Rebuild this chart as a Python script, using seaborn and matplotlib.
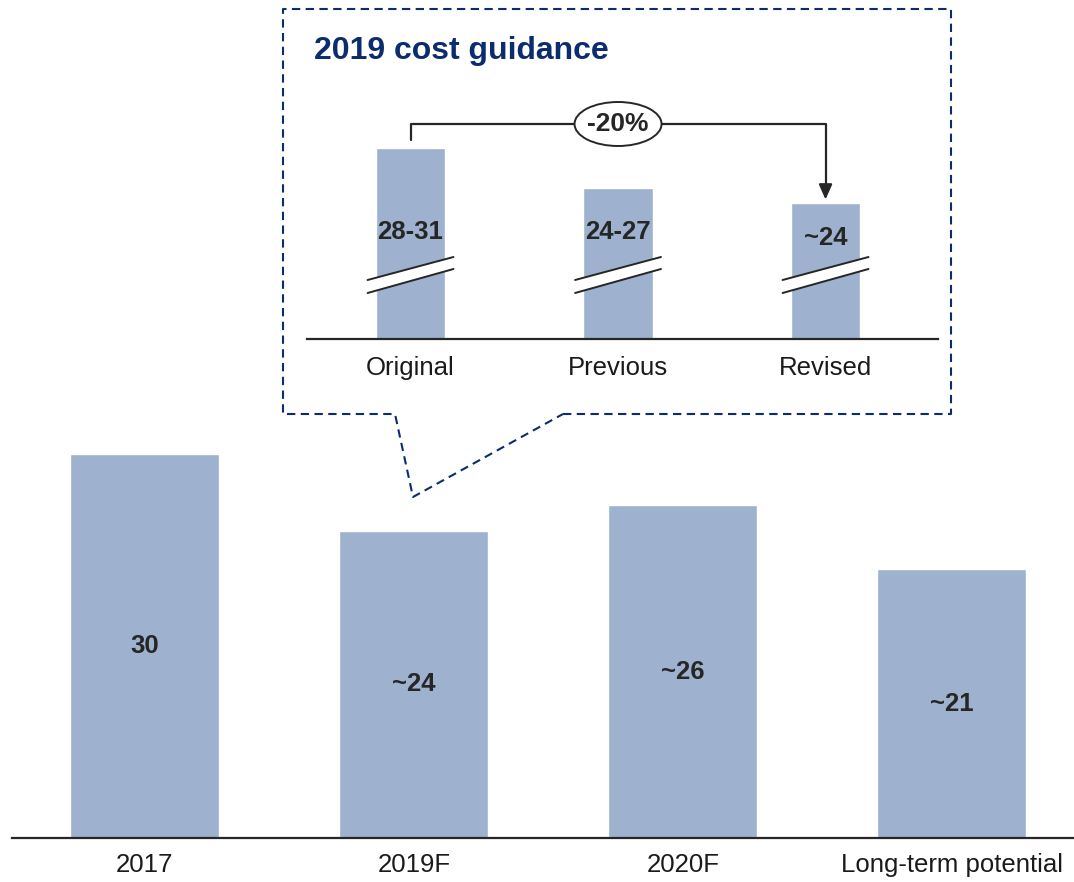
import matplotlib
matplotlib.use("Agg")
import matplotlib.pyplot as plt
import seaborn as sns
import pandas as pd
from matplotlib.patches import Ellipse, Polygon
from matplotlib.lines import Line2D

# ---------------- data ----------------
main_categories = ["2017", "2019F", "2020F", "Long-term potential"]
main_values = [30, 24, 26, 21]
main_labels = ["30", "~24", "~26", "~21"]

inset_categories = ["Original", "Previous", "Revised"]
inset_values = [29.5, 25.5, 24.0]
inset_labels = ["28-31", "24-27", "~24"]
change_label = "-20%"
inset_title = "2019 cost guidance"

# ---------------- style ----------------
sns.set_style("white")
plt.rcParams["font.family"] = ["Liberation Sans", "DejaVu Sans"]

BAR = "#9EB1CE"
DARK = "#262626"
NAVY = "#0B2D6E"

W, H = 1074, 882
fig = plt.figure(figsize=(W / 100, H / 100), dpi=100)

def fx(px):
    return px / W

def fy(py):
    return 1 - py / H

# ---------------- main chart ----------------
ax = fig.add_axes([fx(12), fy(838), fx(1074 - 12), (838) / H])
df = pd.DataFrame({"cat": main_categories, "val": main_values})
sns.barplot(data=df, x="cat", y="val", color=BAR, saturation=1, width=0.554, ax=ax)
ax.set_ylim(0, 838 / 12.8)
ax.set_xlim(-0.494, 3.454)
for s in ["top", "right", "left"]:
    ax.spines[s].set_visible(False)
ax.spines["bottom"].set_color(DARK)
ax.spines["bottom"].set_linewidth(1.6)
ax.set_yticks([])
ax.set_xlabel("")
ax.set_ylabel("")
ax.tick_params(axis="x", length=0, pad=11, labelsize=18.5, colors="#1a1a1a")
for i, (v, lab) in enumerate(zip(main_values, main_labels)):
    ax.text(i, v / 2, lab, ha="center", va="center", fontsize=18.5,
            fontweight="bold", color=DARK)

# ---------------- inset chart ----------------
base = 10.4
ax2 = fig.add_axes([fx(307), fy(339), fx(938 - 307), (339 - 100) / H])
df2 = pd.DataFrame({"cat": inset_categories, "val": inset_values})
sns.barplot(data=df2, x="cat", y="val", color=BAR, saturation=1, width=0.333, ax=ax2)
ax2.set_ylim(base, base + 23.9)
ax2.set_xlim(-0.499, 2.542)
for s in ["top", "right", "left"]:
    ax2.spines[s].set_visible(False)
ax2.spines["bottom"].set_color(DARK)
ax2.spines["bottom"].set_linewidth(1.6)
ax2.set_yticks([])
ax2.set_xlabel("")
ax2.set_ylabel("")
ax2.patch.set_alpha(0)
ax2.tick_params(axis="x", length=0, pad=12, labelsize=18.5, colors="#1a1a1a")

label_y = [21.1, 21.1, 20.5]
for i, (lab, ly) in enumerate(zip(inset_labels, label_y)):
    ax2.text(i, ly, lab, ha="center", va="center", fontsize=18.5,
             fontweight="bold", color=DARK)
    # axis-break marks
    xl, xr = i - 0.207, i + 0.207
    upper = [(xl, 16.3), (xr, 18.6)]
    lower = [(xl, 15.0), (xr, 17.4)]
    ax2.add_patch(Polygon(upper + lower[::-1], closed=True, facecolor="white",
                          edgecolor="none", zorder=4))
    for seg in (upper, lower):
        ax2.add_line(Line2D([seg[0][0], seg[1][0]], [seg[0][1], seg[1][1]],
                            color=DARK, lw=1.4, zorder=5))

# bracket with arrow
top = max(inset_values) + 2.4
start = inset_values[0] + 0.8
end = inset_values[-1] + 0.35
ax2.plot([0, 0, 2, 2], [start, top, top, end + 1.2], color=DARK, lw=1.6,
         zorder=3, clip_on=False)
ax2.annotate("", xy=(2, end), xytext=(2, end + 1.5),
             arrowprops=dict(arrowstyle="-|>,head_length=0.9,head_width=0.4",
                             color=DARK, lw=1.6, shrinkA=0, shrinkB=0),
             annotation_clip=False)
ell = Ellipse((1, top), width=87 / 207.5, height=4.4, facecolor="white",
              edgecolor=DARK, lw=1.4, zorder=6, clip_on=False)
ax2.add_patch(ell)
ax2.text(1, top, change_label, ha="center", va="center", fontsize=19,
         fontweight="bold", color=DARK, zorder=7)

# ---------------- callout box ----------------
pts = [(563, 414), (951, 414), (951, 9), (283, 9), (283, 414), (395, 414),
       (413, 497), (563, 414)]
fig.add_artist(Line2D([fx(p[0]) for p in pts], [fy(p[1]) for p in pts],
                      transform=fig.transFigure, color=NAVY, lw=1.5,
                      linestyle=(0, (4, 2.6))))
fig.text(fx(314), fy(51), inset_title, ha="left", va="center", fontsize=23,
         fontweight="bold", color=NAVY)

fig.savefig("out.png", dpi=100)
